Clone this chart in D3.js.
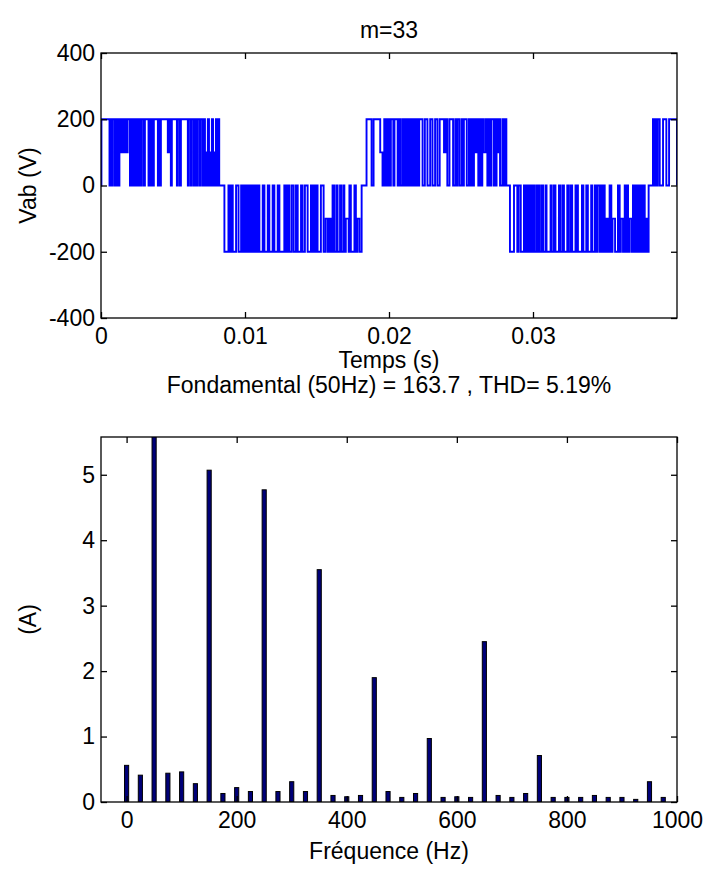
<!DOCTYPE html>
<html><head><meta charset="utf-8">
<script src="https://cdn.jsdelivr.net/npm/d3@7/dist/d3.min.js"></script>
<style>
body{margin:0;background:#fff;}
svg text{font-family:"Liberation Sans",Arial,sans-serif;fill:#000;font-size:23px;}
</style></head><body>
<svg id="fig" width="709" height="873"></svg>
<script>
// ---- line-to-line voltage: switching pulses per half cycle, [start ms, end ms, |level| V (default 200)]
const halfSigns = [1, -1, 1, -1, 1];
const pulsesHalf1 = [[0.03,0.59],[0.66,0.73],[0.80,0.94],[0.99,1.05],[1.10,1.21],[1.28,1.38],[1.38,1.45,100],[1.45,1.58],[1.58,1.65,100],[1.65,1.78],[1.78,1.85,100],[1.85,2.01],[2.08,2.15],[2.20,2.30],[2.35,2.45],[2.50,2.60],[2.67,2.77],[2.84,2.98],[3.05,3.30],[3.35,3.40],[3.47,3.60],[3.67,3.95],[4.02,4.09],[4.16,4.64],[4.64,4.75,100],[4.75,4.85],[4.92,5.27],[5.34,5.48],[5.55,6.03],[6.10,6.24],[6.31,6.45],[6.52,6.65],[6.72,6.86],[6.93,7.07],[7.14,7.22],[7.28,7.36,100],[7.42,7.50],[7.56,7.64,100],[7.70,7.78],[7.84,7.92,100],[7.98,8.06],[8.12,8.21]];
const pulsesHalf2 = [[8.57,8.85],[8.97,9.05],[9.15,9.38],[9.55,9.73],[9.84,9.92],[9.98,10.06],[10.12,10.20],[10.26,10.34],[10.40,10.48],[10.54,10.62],[10.68,10.76],[10.80,10.88],[11.00,11.23],[11.35,11.58],[11.69,11.92],[12.04,12.27],[12.39,12.73],[12.85,12.96],[13.08,13.24],[13.38,13.54],[13.66,13.89],[14.00,14.16],[14.35,14.58],[14.70,14.81],[14.90,14.97],[15.04,15.27],[15.46,15.60],[15.60,15.75,100],[15.75,15.85],[15.85,15.98,100],[15.98,16.08],[16.20,16.35],[16.43,16.60],[16.70,16.85],[16.90,17.00],[17.00,17.20,100],[17.20,17.25],[17.35,17.60],[17.70,17.80],[17.80,17.95,100],[17.95,18.10]];
const pulsesHalf3 = [[18.44,18.79],[18.93,19.39],[19.39,19.55,100],[19.67,19.75],[19.82,19.90],[19.98,20.05],[20.13,20.30],[20.38,20.60],[20.71,20.80],[20.94,21.05],[21.16,21.24],[21.30,21.38],[21.44,21.52],[21.58,21.66],[21.72,21.80],[21.86,21.98],[22.10,22.33],[22.49,22.67],[22.86,23.02],[23.20,23.36],[23.52,23.82],[23.82,23.95,100],[23.95,24.05],[24.20,24.45],[24.60,24.70],[24.76,24.90],[25.05,25.12],[25.20,25.40],[25.55,25.67],[25.75,25.82],[25.90,26.00],[26.00,26.08,100],[26.08,26.20],[26.26,26.36],[26.48,26.56],[26.56,26.70,100],[26.70,26.83],[26.95,27.05],[27.12,27.29],[27.36,27.42],[27.47,27.55],[27.55,27.65,100],[27.65,27.71],[27.87,27.95],[28.05,28.15]];
const pulsesHalf4 = [[28.40,28.68],[28.91,29.00],[29.15,29.37],[29.49,29.57],[29.63,29.71],[29.77,29.85],[29.91,30.02],[30.11,30.25],[30.32,30.40],[30.48,30.62],[30.70,30.87],[30.94,31.22],[31.30,31.45],[31.56,31.80],[31.90,32.05],[32.15,32.38],[32.48,32.62],[32.72,32.95],[33.02,33.08],[33.12,33.40],[33.50,33.70],[33.81,34.04],[34.12,34.30],[34.39,34.47],[34.62,34.70],[34.78,34.90],[34.98,35.10],[35.10,35.22,100],[35.22,35.32],[35.44,35.52],[35.52,35.70,100],[35.70,35.90],[36.02,36.10],[36.10,36.25,100],[36.25,36.37],[36.45,36.52],[36.60,36.70],[36.70,36.85,100],[36.85,36.94],[37.02,37.10],[37.18,37.28],[37.40,37.52],[37.60,37.68],[37.76,37.84],[37.84,37.95,100],[37.95,38.03]];
const pulsesHalf5 = [[38.33,38.42],[38.50,38.58],[38.66,38.80],[39.03,39.26],[39.45,40.00]];
const timeTicks = [0, 0.01, 0.02, 0.03];
const timeTickLabels = ["0", "0.01", "0.02", "0.03"];
const voltTicks = [-400, -200, 0, 200, 400];

// ---- harmonic spectrum
const harmFreqs = [0,25,50,75,100,125,150,175,200,225,250,275,300,325,350,375,400,425,450,475,500,525,550,575,600,625,650,675,700,725,750,775,800,825,850,875,900,925,950,975];
const harmAmps  = [0.56,0.41,163.7,0.44,0.46,0.28,5.07,0.13,0.22,0.16,4.77,0.16,0.31,0.16,3.55,0.10,0.08,0.10,1.90,0.16,0.07,0.13,0.97,0.07,0.08,0.07,2.45,0.10,0.07,0.13,0.71,0.07,0.07,0.07,0.10,0.07,0.07,0.04,0.31,0.07];
const freqTicks = [0, 200, 400, 600, 800, 1000];
const ampTicks = [0, 1, 2, 3, 4, 5];
const fundamental = 163.7, thd = 5.19;

const svg = d3.select("#fig");
const L = 101, R = 677;
const plain = d => String(d);   // "-200", "1000", "5"
const tickFont = 20, labelFont = 23;

// ================= upper panel: Vab(t)
const upBox = {t: 53, b: 318};
const xT = d3.scaleLinear().domain([0, 0.04]).range([L, R]);
const yV = d3.scaleLinear().domain([-400, 400]).range([upBox.b, upBox.t]);

const pulses = [];
[pulsesHalf1, pulsesHalf2, pulsesHalf3, pulsesHalf4, pulsesHalf5].forEach((arr, h) => {
  arr.forEach(p => pulses.push({t0: p[0] / 1000, t1: p[1] / 1000, v: halfSigns[h] * (p[2] || 200)}));
});
const steps = [[0, 0]];
pulses.forEach((p, i) => {
  steps.push([p.t0, p.v]);
  const nx = pulses[i + 1];
  if (!nx || Math.abs(nx.t0 - p.t1) > 1e-9) steps.push([p.t1, 0]);
});

svg.append("clipPath").attr("id", "clipTop").append("rect")
  .attr("x", L).attr("y", upBox.t).attr("width", R - L).attr("height", upBox.b - upBox.t);
svg.append("path").datum(steps)
  .attr("clip-path", "url(#clipTop)")
  .attr("fill", "none").attr("stroke", "#0000ff").attr("stroke-width", 1.9)
  .attr("d", d3.line().x(d => xT(d[0])).y(d => yV(d[1])).curve(d3.curveStepAfter));

function frame(t, b) {
  svg.append("rect").attr("x", L).attr("y", t).attr("width", R - L).attr("height", b - t)
    .attr("fill", "none").attr("stroke", "#000").attr("stroke-width", 1.3);
}
frame(upBox.t, upBox.b);

const tk = 6;
// ticks point inward and are mirrored on the opposite edges
svg.append("g").attr("transform", `translate(0,${upBox.b})`)
  .call(d3.axisBottom(xT).tickValues(timeTicks).tickSizeInner(-tk).tickSizeOuter(0).tickPadding(10)
    .tickFormat((d, i) => timeTickLabels[i]));
svg.append("g").attr("transform", `translate(0,${upBox.t})`)
  .call(d3.axisTop(xT).tickValues(timeTicks).tickSizeInner(-tk).tickSizeOuter(0).tickFormat(""));
svg.append("g").attr("transform", `translate(${L},0)`)
  .call(d3.axisLeft(yV).tickValues(voltTicks).tickSizeInner(-tk).tickSizeOuter(0).tickPadding(6).tickFormat(plain));
svg.append("g").attr("transform", `translate(${R},0)`)
  .call(d3.axisRight(yV).tickValues(voltTicks).tickSizeInner(-tk).tickSizeOuter(0).tickFormat(""));

svg.append("text").attr("x", (L + R) / 2).attr("y", 38).attr("text-anchor", "middle")
  .attr("font-size", labelFont).text("m=33");
svg.append("text").attr("x", (L + R) / 2).attr("y", 368).attr("text-anchor", "middle")
  .attr("font-size", labelFont).text("Temps (s)");
svg.append("text").attr("transform", `translate(36,${(upBox.t + upBox.b) / 2}) rotate(-90)`)
  .attr("text-anchor", "middle").attr("font-size", labelFont).text("Vab (V)");

// ================= lower panel: spectrum
const lowBox = {t: 437, b: 802};
const xF = d3.scaleLinear().domain([-46.5, 1000]).range([L, R]);
const yA = d3.scaleLinear().domain([0, 5.577]).range([lowBox.b, lowBox.t]);
const barW = xF(7.5) - xF(0);

svg.append("clipPath").attr("id", "clipBot").append("rect")
  .attr("x", L).attr("y", lowBox.t).attr("width", R - L).attr("height", lowBox.b - lowBox.t);
svg.append("g").attr("clip-path", "url(#clipBot)")
  .selectAll("rect").data(harmFreqs).join("rect")
  .attr("x", (d) => xF(d) - barW / 2)
  .attr("width", barW)
  .attr("y", (d, i) => yA(harmAmps[i]))
  .attr("height", (d, i) => yA(0) - yA(harmAmps[i]))
  .attr("fill", "#000078").attr("stroke", "#000").attr("stroke-width", 1);

frame(lowBox.t, lowBox.b);
svg.append("g").attr("transform", `translate(0,${lowBox.b})`)
  .call(d3.axisBottom(xF).tickValues(freqTicks).tickSizeInner(-tk).tickSizeOuter(0).tickPadding(10).tickFormat(plain));
svg.append("g").attr("transform", `translate(0,${lowBox.t})`)
  .call(d3.axisTop(xF).tickValues(freqTicks).tickSizeInner(-tk).tickSizeOuter(0).tickFormat(""));
svg.append("g").attr("transform", `translate(${L},0)`)
  .call(d3.axisLeft(yA).tickValues(ampTicks).tickSizeInner(-tk).tickSizeOuter(0).tickPadding(6).tickFormat(plain));
svg.append("g").attr("transform", `translate(${R},0)`)
  .call(d3.axisRight(yA).tickValues(ampTicks).tickSizeInner(-tk).tickSizeOuter(0).tickFormat(""));

svg.append("text").attr("x", (L + R) / 2).attr("y", 393).attr("text-anchor", "middle")
  .attr("font-size", labelFont).text(`Fondamental (50Hz) = ${fundamental} , THD= ${thd}%`);
svg.append("text").attr("x", (L + R) / 2).attr("y", 859).attr("text-anchor", "middle")
  .attr("font-size", labelFont).text("Fréquence (Hz)");
svg.append("text").attr("transform", `translate(36,${(lowBox.t + lowBox.b) / 2}) rotate(-90)`)
  .attr("text-anchor", "middle").attr("font-size", labelFont).text("(A)");

// axis styling
svg.selectAll(".domain").remove();
svg.selectAll(".tick line").attr("stroke", "#000").attr("stroke-width", 1.3);
svg.selectAll(".tick text").attr("font-size", tickFont).attr("fill", "#000")
  .attr("font-family", '"Liberation Sans",Arial,sans-serif');
</script></body></html>
